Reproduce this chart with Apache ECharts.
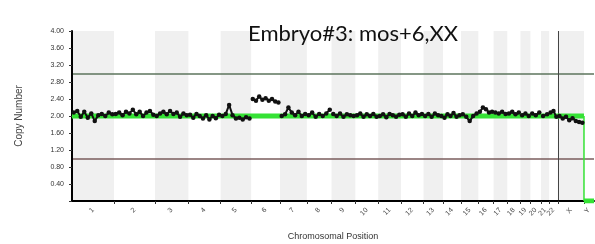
<!DOCTYPE html>
<html>
<head>
<meta charset="utf-8">
<script src="https://cdn.jsdelivr.net/npm/echarts@6/dist/echarts.min.js"></script>
<style>
  html, body { margin: 0; padding: 0; background: #ffffff; }
  #chart { width: 595px; height: 244px; }
</style>
</head>
<body>
<div id="chart"></div>
<script>
// chromosome layout (Mb)
const chromNames = ['1', '2', '3', '4', '5', '6', '7', '8', '9', '10', '11', '12',
    '13', '14', '15', '16', '17', '18', '19', '20', '21', '22', 'X', 'Y'];
const chromSizes = [249.3, 243.2, 198.0, 191.2, 180.9, 171.1, 159.1, 146.4, 141.2, 135.5, 135.0, 133.9,
    115.2, 107.3, 102.5, 90.4, 81.2, 78.1, 59.1, 63.0, 48.1, 51.3, 155.3, 59.4];

// copy number bins, per chromosome
const chr1Bins = [2.08, 2.12, 1.98, 2.10, 1.96, 2.06, 1.88, 2.02, 2.05, 2.00, 2.08, 2.04];
const chr2Bins = [2.05, 2.08, 2.02, 2.10, 2.06, 2.15, 2.04, 2.10, 2.00, 2.08, 2.12, 2.03];
const chr3Bins = [2.00, 2.06, 2.10, 2.04, 2.12, 2.05, 2.08, 1.98, 2.06, 2.02];
const chr4Bins = [2.03, 1.96, 2.05, 2.00, 1.94, 2.02, 1.92, 2.00, 1.95, 2.03];
const chr5Bins = [2.00, 2.05, 2.26, 2.02, 1.94, 1.96, 1.92, 1.97, 1.94];
const chr6Bins = [2.40, 2.36, 2.46, 2.38, 2.42, 2.36, 2.40, 2.34, 2.32];
const chr7Bins = [2.00, 2.04, 2.20, 2.08, 2.02, 2.10, 2.00, 2.05];
const chr8Bins = [2.02, 2.08, 1.98, 2.05, 2.00, 2.06, 2.15];
const chr9Bins = [2.05, 2.00, 2.06, 1.98, 2.04, 2.02, 2.00];
const chr10Bins = [2.02, 2.06, 1.98, 2.04, 2.00, 2.05, 1.98];
const chr11Bins = [2.00, 2.04, 1.97, 2.05, 2.02, 1.98, 2.03];
const chr12Bins = [2.04, 1.98, 2.06, 2.00, 2.08, 2.02, 2.05];
const chr13Bins = [2.00, 2.05, 1.98, 2.06, 2.02, 2.00];
const chr14Bins = [1.96, 2.04, 2.00, 2.07, 1.98, 2.02];
const chr15Bins = [2.04, 1.98, 1.88, 2.00, 2.06];
const chr16Bins = [2.10, 2.20, 2.16, 2.08, 2.10];
const chr17Bins = [2.08, 2.06, 2.10, 2.05];
const chr18Bins = [2.06, 2.10, 2.04, 2.08];
const chr19Bins = [2.02, 2.06, 2.00];
const chr20Bins = [2.06, 2.02, 2.08];
const chr21Bins = [2.00, 2.04];
const chr22Bins = [2.08, 2.12, 1.98];
const chrXBins = [2.00, 1.94, 1.98, 1.90, 1.95, 1.88, 1.86, 1.84];
const chrYBins = [];

const binsPerChrom = [chr1Bins, chr2Bins, chr3Bins, chr4Bins, chr5Bins, chr6Bins, chr7Bins, chr8Bins,
    chr9Bins, chr10Bins, chr11Bins, chr12Bins, chr13Bins, chr14Bins, chr15Bins, chr16Bins, chr17Bins,
    chr18Bins, chr19Bins, chr20Bins, chr21Bins, chr22Bins, chrXBins, chrYBins];

// segmentation calls (green line)
const segFrom = ['1', 'Y'];
const segTo = ['X', 'Y'];
const segValues = [2.0, 0.0];

// threshold lines
const gainLevel = 3.0;
const lossLevel = 1.0;

const starts = [];
let acc = 0;
chromSizes.forEach(s => { starts.push(acc); acc += s; });
const genomeLength = acc;
const centers = chromSizes.map((s, i) => starts[i] + s / 2);
const chromEnd = i => starts[i] + chromSizes[i];

const bands = [];
chromNames.forEach((name, i) => {
    if (i % 2 === 0) {
        bands.push([{ xAxis: starts[i] }, { xAxis: chromEnd(i) }]);
    }
});

const series = [];

// background bands + threshold lines + X/Y divider
series.push({
    type: 'line',
    data: [],
    silent: true,
    z: 0,
    markArea: {
        silent: true,
        itemStyle: { color: '#f0f0f0' },
        data: bands
    },
    markLine: {
        silent: true,
        symbol: 'none',
        label: { show: false },
        data: [
            { yAxis: gainLevel, lineStyle: { color: '#5d745d', width: 1.5, type: 'solid' } },
            { yAxis: lossLevel, lineStyle: { color: '#7a5c5c', width: 1.5, type: 'solid' } },
            { xAxis: starts[chromNames.indexOf('X')], lineStyle: { color: '#444444', width: 1, type: 'solid' } }
        ]
    }
});

// green segment lines (drawn above the axis line, like the original)
segValues.forEach((v, k) => {
    const a = chromNames.indexOf(segFrom[k]);
    const b = chromNames.indexOf(segTo[k]);
    series.push({
        type: 'line',
        data: [[starts[a], v], [chromEnd(b), v]],
        symbol: 'none',
        z: 11,
        lineStyle: { color: '#35e235', width: 5 }
    });
    if (k > 0) {
        series.push({
            type: 'line',
            data: [[starts[a], segValues[k - 1]], [starts[a], v]],
            symbol: 'none',
            z: 11,
            lineStyle: { color: '#35e235', width: 1.5 }
        });
    }
});

// black bins, one series per chromosome so the line breaks between them
binsPerChrom.forEach((bins, i) => {
    if (bins.length === 0) return;
    const pts = bins.map((v, j) => [starts[i] + (j + 0.5) / bins.length * chromSizes[i], v]);
    series.push({
        type: 'line',
        data: pts,
        symbol: 'circle',
        symbolSize: 4.5,
        z: 12,
        itemStyle: { color: '#111111' },
        lineStyle: { color: '#111111', width: 2 }
    });
});

const chart = echarts.init(document.getElementById('chart'));

chart.setOption({
    animation: false,
    backgroundColor: '#ffffff',
    title: {
        text: 'Embryo#3: mos+6,XX',
        left: 243,
        top: 18,
        textStyle: {
            fontFamily: 'Lato',
            fontSize: 22,
            fontWeight: 'normal',
            color: '#111111'
        }
    },
    grid: {
        left: 72,
        right: 1,
        top: 31,
        bottom: 43,
        outerBoundsMode: 'none'
    },
    xAxis: {
        type: 'value',
        min: 0,
        max: genomeLength,
        z: 10,
        name: 'Chromosomal Position',
        nameLocation: 'middle',
        nameGap: 31,
        nameTextStyle: { fontFamily: 'Liberation Sans', fontSize: 9, color: '#333333' },
        axisLine: { show: true, lineStyle: { color: '#000000', width: 2 } },
        axisTick: {
            show: true,
            length: 3,
            customValues: starts.slice(1),
            lineStyle: { color: '#333333' }
        },
        axisLabel: {
            customValues: centers,
            rotate: 45,
            margin: 8,
            fontFamily: 'Liberation Sans',
            fontSize: 7,
            color: '#444444',
            formatter: val => {
                let best = 0;
                centers.forEach((c, i) => {
                    if (Math.abs(c - val) < Math.abs(centers[best] - val)) best = i;
                });
                return chromNames[best];
            }
        },
        splitLine: { show: false }
    },
    yAxis: {
        type: 'value',
        min: 0,
        max: 4,
        interval: 0.4,
        z: 10,
        name: 'Copy Number',
        nameLocation: 'middle',
        nameGap: 48,
        nameTextStyle: { fontFamily: 'Liberation Sans', fontSize: 10, color: '#444444' },
        axisLine: { show: true, lineStyle: { color: '#000000', width: 2 } },
        axisTick: { show: true, length: 3, lineStyle: { color: '#333333' } },
        axisLabel: {
            fontFamily: 'Liberation Sans',
            fontSize: 7,
            color: '#333333',
            margin: 8,
            formatter: v => (v === 0 ? '' : v.toFixed(2))
        },
        splitLine: { show: false }
    },
    series: series
});
</script>
</body>
</html>
